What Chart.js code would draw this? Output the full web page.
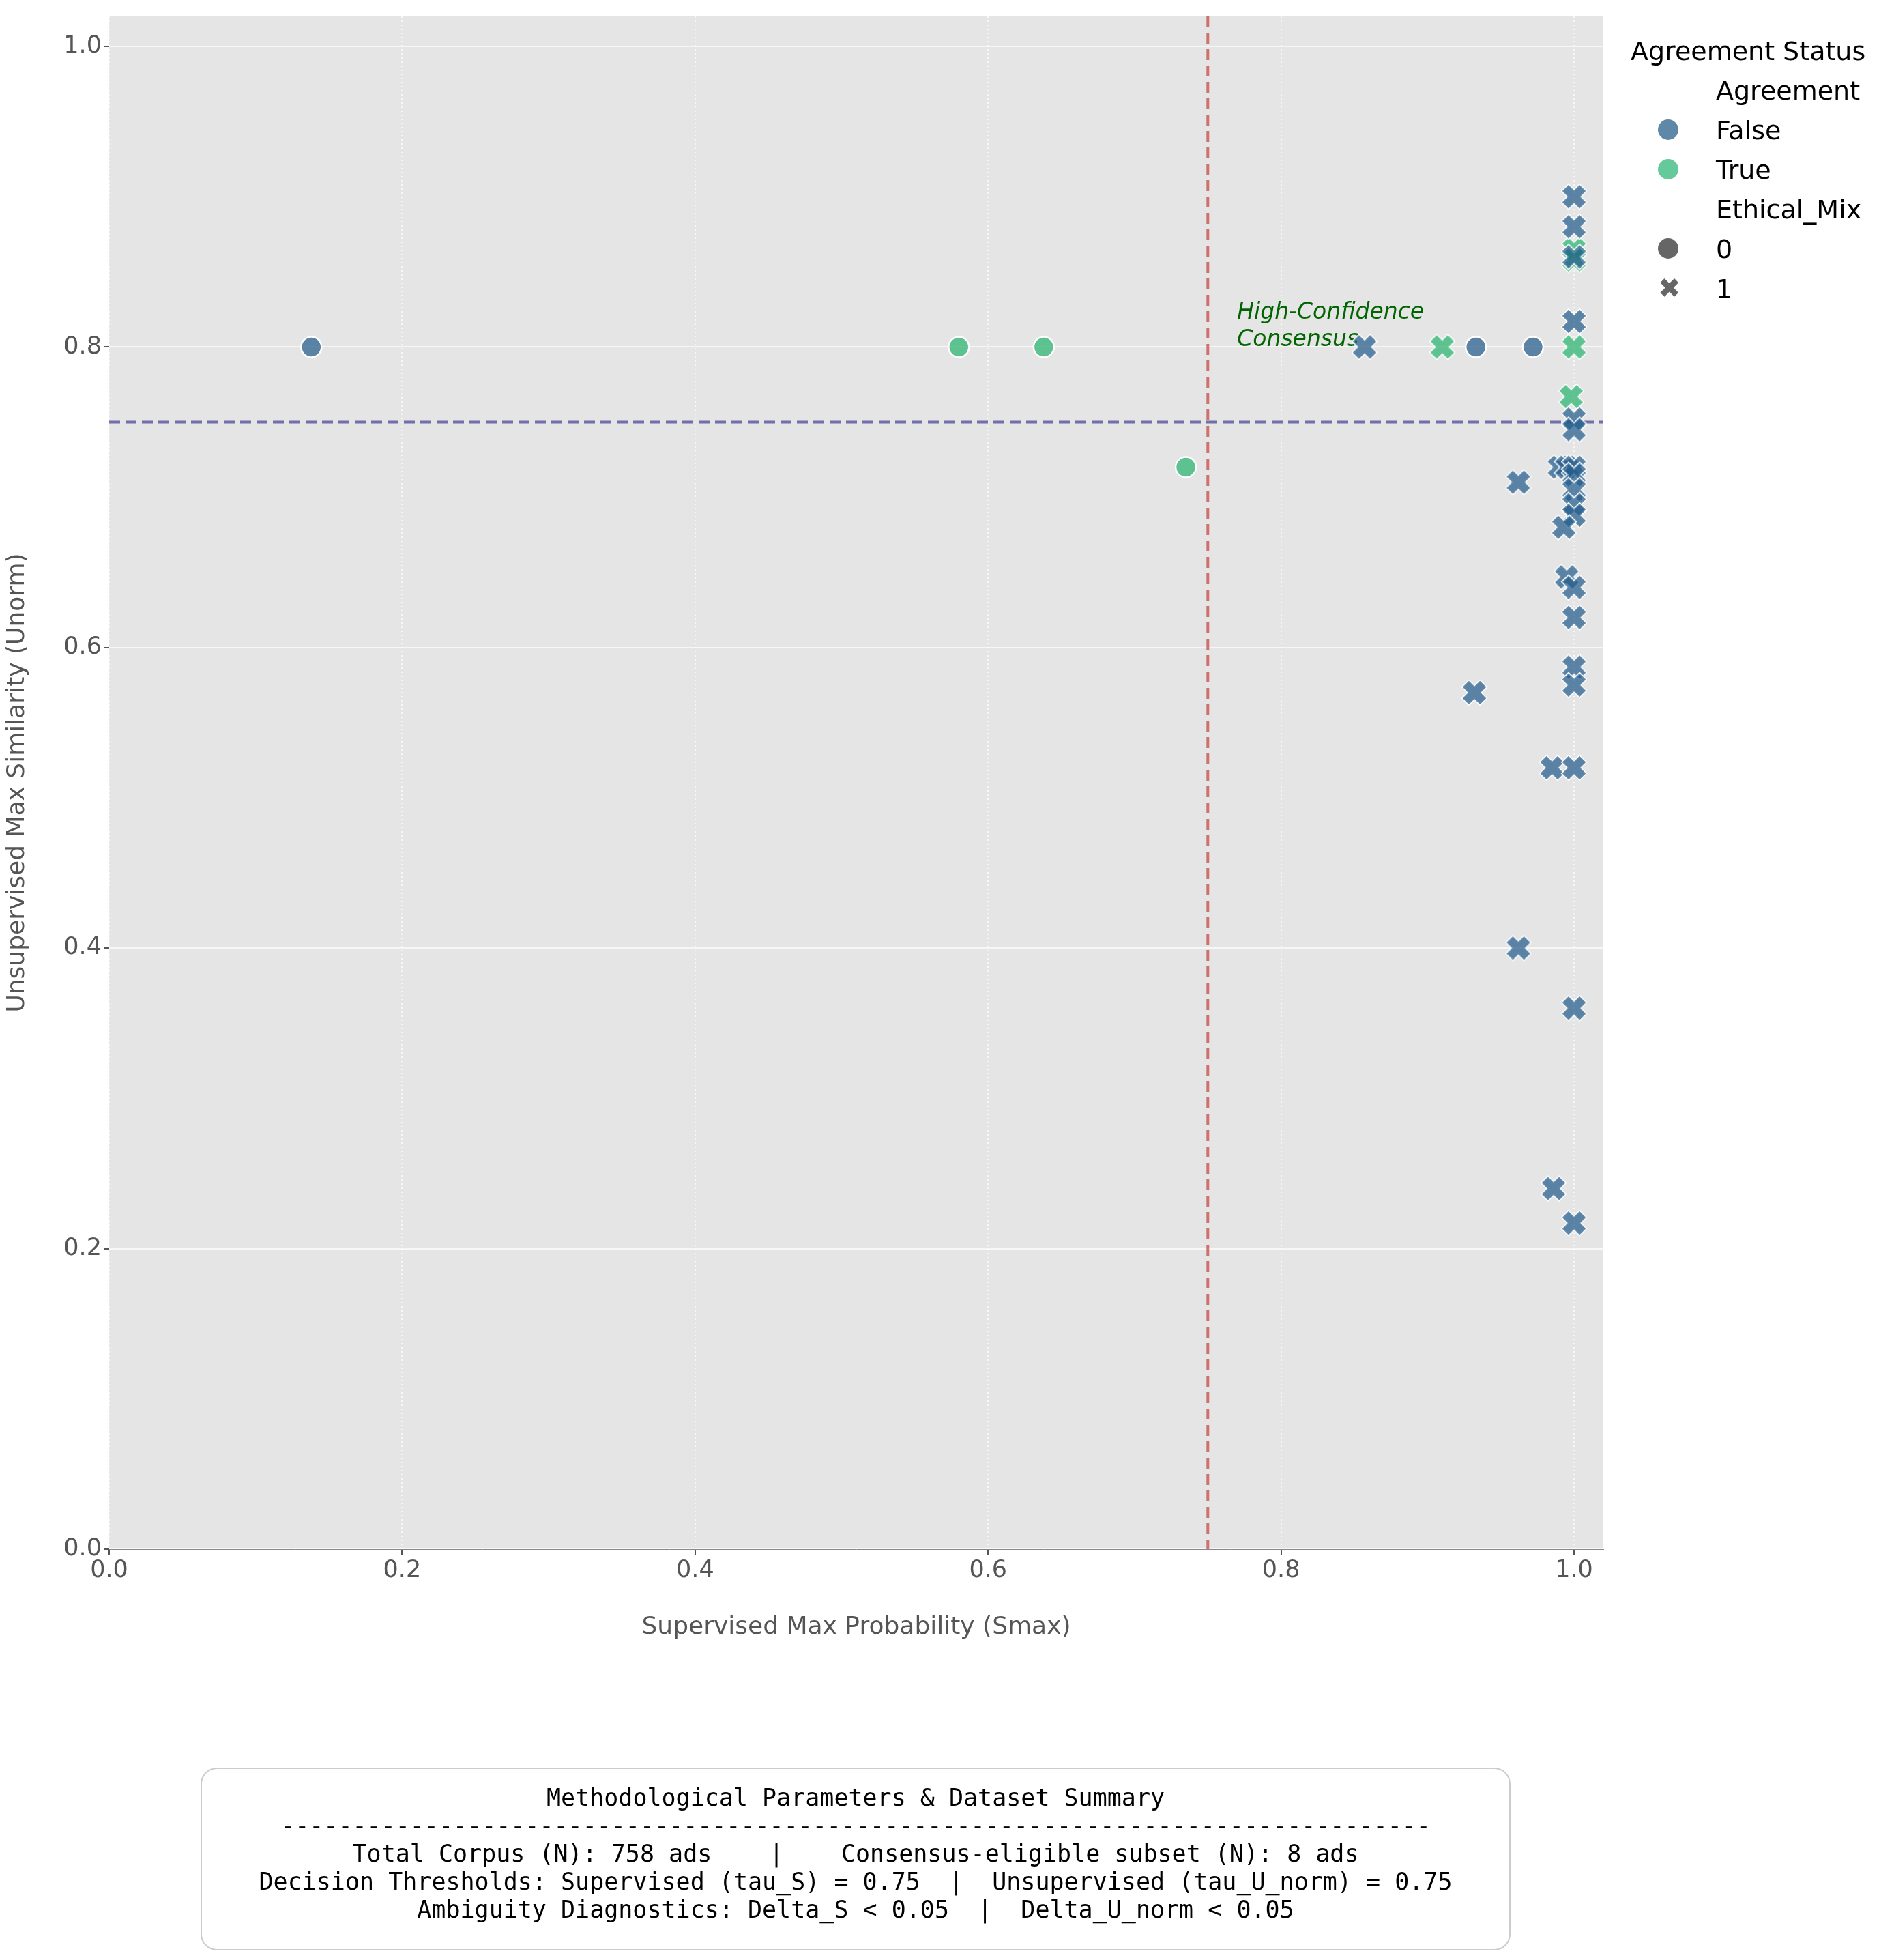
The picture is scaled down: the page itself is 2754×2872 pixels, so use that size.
<!DOCTYPE html>
<html>
<head>
<meta charset="utf-8">
<script src="https://cdn.jsdelivr.net/npm/chart.js@4"></script>
<style>
body{margin:0;background:#fff;font-family:"DejaVu Sans",sans-serif;}
#wrap{position:relative;width:2754px;height:2872px;}
#legend{position:absolute;left:2390px;top:46px;font-size:38px;color:#000;line-height:58px;}
#legend .row{position:relative;padding-left:125px;}
#legend .sym{position:absolute;left:40px;top:13px;width:30px;height:30px;}
#box{position:absolute;left:294px;top:2590px;width:1920px;height:268px;border:2px solid #ccc;border-radius:24px;
 font-family:"DejaVu Sans Mono",monospace;font-size:35px;text-align:center;line-height:41px;box-sizing:border-box;padding-top:22px;white-space:pre;}
</style>
</head>
<body>
<div id="wrap">
<canvas id="myChart" width="2754" height="2872"></canvas>
<div id="legend">
 <div style="margin-left:0;">Agreement Status</div>
 <div class="row">Agreement</div>
 <div class="row"><span class="sym" style="border-radius:50%;background:#5f88a8"></span>False</div>
 <div class="row"><span class="sym" style="border-radius:50%;background:#66c99b"></span>True</div>
 <div class="row">Ethical_Mix</div>
 <div class="row"><span class="sym" style="border-radius:50%;background:#666"></span>0</div>
 <div class="row"><span class="sym" style="color:#666;font-size:40px;line-height:30px;font-weight:bold;top:13px">&#x2716;</span>1</div>
</div>
<div id="box">Methodological Parameters &amp; Dataset Summary
--------------------------------------------------------------------------------
Total Corpus (N): 758 ads    |    Consensus-eligible subset (N): 8 ads
Decision Thresholds: Supervised (tau_S) = 0.75  |  Unsupervised (tau_U_norm) = 0.75
Ambiguity Diagnostics: Delta_S &lt; 0.05  |  Delta_U_norm &lt; 0.05</div>
</div>
<script>
// data
var falseCircleX = [0.138, 0.933, 0.972];
var falseCircleY = [0.80, 0.80, 0.80];
var trueCircleX = [0.58, 0.638, 0.735];
var trueCircleY = [0.80, 0.80, 0.72];
var falseCrossX = [0.857,1.0,1.0,1.0,1.0,1.0,1.0,0.99,0.995,1.0,1.0,1.0,1.0,1.0,0.993,0.962,0.995,1.0,1.0,1.0,1.0,0.932,0.985,1.0,0.962,1.0,0.986,1.0];
var falseCrossY = [0.80,0.90,0.88,0.86,0.817,0.752,0.745,0.72,0.72,0.72,0.715,0.705,0.695,0.688,0.68,0.71,0.647,0.64,0.62,0.587,0.575,0.57,0.52,0.52,0.40,0.36,0.24,0.217];
var trueCrossX = [0.91, 1.0, 1.0, 1.0, 0.998];
var trueCrossY = [0.80, 0.865, 0.858, 0.80, 0.767];
var threshS = 0.75, threshU = 0.75;

var falseCol = 'rgba(35,92,140,0.72)';
var trueCol = 'rgba(40,180,110,0.72)';

function pts(xs, ys){ return xs.map(function(x,i){ return {x:x, y:ys[i]}; }); }

function makeX(color){
  var c = document.createElement('canvas'); c.width = 48; c.height = 48;
  var g = c.getContext('2d');
  var s = 18, w = 6.5;
  g.translate(24,24); g.rotate(Math.PI/4);
  g.beginPath();
  g.moveTo(-w,-s); g.lineTo(w,-s); g.lineTo(w,-w); g.lineTo(s,-w); g.lineTo(s,w); g.lineTo(w,w);
  g.lineTo(w,s); g.lineTo(-w,s); g.lineTo(-w,w); g.lineTo(-s,w); g.lineTo(-s,-w); g.lineTo(-w,-w); g.closePath();
  g.lineWidth = 3; g.strokeStyle = '#fff'; g.stroke();
  g.fillStyle = color; g.fill();
  return c;
}

var bgPlugin = {
  id: 'bg',
  beforeDraw: function(chart){
    var a = chart.chartArea, ctx = chart.ctx;
    ctx.save(); ctx.fillStyle = '#e5e5e5';
    ctx.fillRect(a.left, a.top, a.right-a.left, a.bottom-a.top); ctx.restore();
  },
  beforeDatasetsDraw: function(chart){
    var a = chart.chartArea, ctx = chart.ctx, sx = chart.scales.x, sy = chart.scales.y;
    ctx.save(); ctx.lineWidth = 4; ctx.setLineDash([16,8]);
    var px = sx.getPixelForValue(threshS);
    ctx.strokeStyle = 'rgba(205,90,90,0.85)';
    ctx.beginPath(); ctx.moveTo(px, a.top); ctx.lineTo(px, a.bottom); ctx.stroke();
    var py = sy.getPixelForValue(threshU);
    ctx.strokeStyle = 'rgba(90,90,160,0.85)';
    ctx.beginPath(); ctx.moveTo(a.left, py); ctx.lineTo(a.right, py); ctx.stroke();
    ctx.setLineDash([]);
    ctx.fillStyle = '#006400'; ctx.font = 'italic 33px "DejaVu Sans"'; ctx.textBaseline = 'top';
    ctx.fillText('High-Confidence', sx.getPixelForValue(0.77), sy.getPixelForValue(0.83));
    ctx.fillText('Consensus', sx.getPixelForValue(0.77), sy.getPixelForValue(0.83) + 40);
    ctx.restore();
  }
};

var ctx = document.getElementById('myChart').getContext('2d');
var myChart = new Chart(ctx, {
  type: 'scatter',
  data: {
    datasets: [
      {data: pts(falseCircleX, falseCircleY), backgroundColor: falseCol, borderColor: '#fff', borderWidth: 2.5, pointRadius: 15},
      {data: pts(trueCircleX, trueCircleY), backgroundColor: trueCol, borderColor: '#fff', borderWidth: 2.5, pointRadius: 15},
      {data: pts(falseCrossX, falseCrossY), pointStyle: makeX(falseCol)},
      {data: pts(trueCrossX, trueCrossY), pointStyle: makeX(trueCol)}
    ]
  },
  options: {
    responsive: false, animation: false,
    layout: {padding: {left: 0, top: 18, right: 404, bottom: 462}},
    plugins: {legend: {display: false}, tooltip: {enabled: false}},
    scales: {
      x: {
        min: 0, max: 1.02,
        afterFit: function(s){ s.height = 140; },
        afterBuildTicks: function(s){ s.ticks = [0,0.2,0.4,0.6,0.8,1.0].map(function(v){return {value:v};}); },
        ticks: {font: {size: 35, family: 'DejaVu Sans'}, color: '#555', callback: function(v){ return v.toFixed(1); }},
        grid: {color: 'rgba(255,255,255,0.7)', lineWidth: 2, tickColor: '#555', tickLength: 8},
        border: {display: true, color: '#888', dash: [2,4]},
        title: {display: true, text: 'Supervised Max Probability (Smax)', font: {size: 36, family: 'DejaVu Sans'}, color: '#555'}
      },
      y: {
        min: 0, max: 1.02,
        afterFit: function(s){ s.width = 160; },
        afterBuildTicks: function(s){ s.ticks = [0,0.2,0.4,0.6,0.8,1.0].map(function(v){return {value:v};}); },
        ticks: {font: {size: 35, family: 'DejaVu Sans'}, color: '#555', callback: function(v){ return v.toFixed(1); }},
        grid: {color: 'rgba(255,255,255,0.7)', lineWidth: 2, tickColor: '#555', tickLength: 8},
        border: {display: false},
        title: {display: true, text: 'Unsupervised Max Similarity (Unorm)', font: {size: 36, family: 'DejaVu Sans'}, color: '#555'}
      }
    }
  },
  plugins: [bgPlugin]
});
</script>
</body>
</html>
